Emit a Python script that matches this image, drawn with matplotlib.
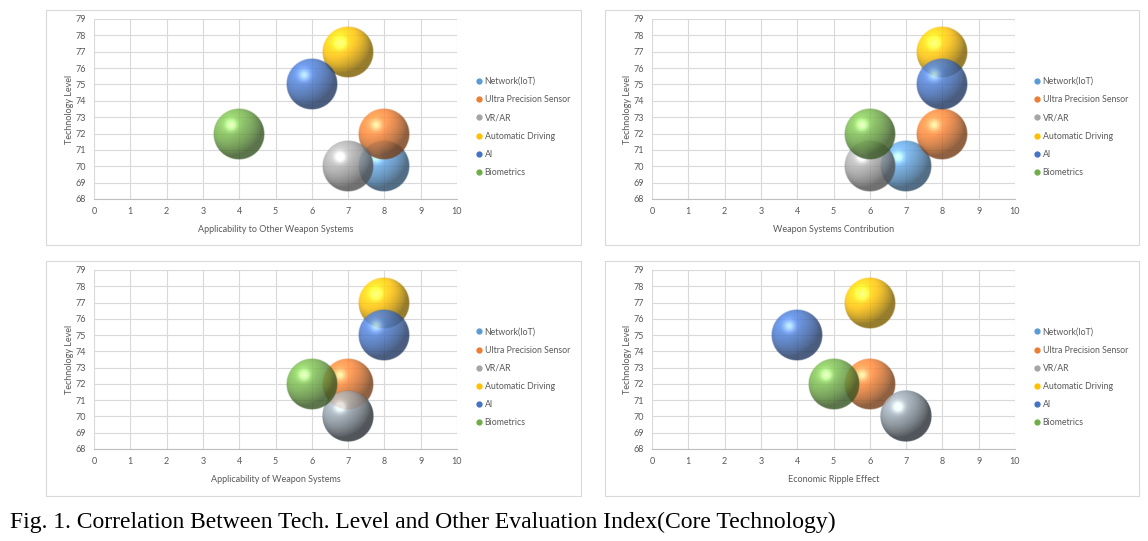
import matplotlib
matplotlib.use("Agg")
import matplotlib.pyplot as plt
from matplotlib.patches import Rectangle
from matplotlib.lines import Line2D
import numpy as np
from matplotlib.colors import to_rgb

plt.rcParams['font.family'] = ['Lato', 'DejaVu Sans']

techs = ["Network(IoT)", "Ultra Precision Sensor", "VR/AR",
         "Automatic Driving", "AI", "Biometrics"]
colors = ["#5B9BD5", "#ED7D31", "#A5A5A5", "#FFC000", "#4472C4", "#70AD47"]
tech_level = [70, 72, 70, 77, 75, 72]

x_titles = ["Applicability to Other Weapon Systems",
            "Weapon Systems Contribution",
            "Applicability of Weapon Systems",
            "Economic Ripple Effect"]
x_other = [8, 8, 7, 7, 6, 4]
x_contrib = [7, 8, 6, 8, 8, 6]
x_applic = [7, 7, 7, 8, 8, 6]
x_econ = [7, 6, 7, 6, 4, 5]
x_values = [x_other, x_contrib, x_applic, x_econ]

caption = "Fig. 1. Correlation Between Tech. Level and Other Evaluation Index(Core Technology)"

W, H = 1148, 541
fig = plt.figure(figsize=(W / 100, H / 100), dpi=100)


def sphere_rgba(color, n=80, alpha=0.82):
    base = np.array(to_rgb(color))
    t = np.linspace(-1, 1, n)
    xx, yy = np.meshgrid(t, -t)
    rr = np.sqrt(xx ** 2 + yy ** 2)
    zz = np.sqrt(np.clip(1 - rr ** 2, 0, 1))
    L = np.array([-0.45, 0.55, 0.70])
    L = L / np.linalg.norm(L)
    diff = np.clip(xx * L[0] + yy * L[1] + zz * L[2], 0, 1)
    spec = np.exp(-((xx + 0.3) ** 2 + (yy - 0.35) ** 2) / 0.05) * 0.4
    shade = 0.5 + 0.7 * diff
    rgb = base[None, None, :] * shade[..., None] + spec[..., None]
    rgb = np.clip(rgb, 0, 1)
    a = np.clip((1 - rr) * n / 2, 0, 1) * alpha
    return np.dstack([rgb, a])


# frames (pixels): left, top, right, bottom
frames = [(46, 10, 581, 245), (605, 10, 1139, 245),
          (46, 261, 581, 496), (605, 261, 1139, 496)]
# plot areas (pixels): x0, x10, y79, y68
areas = [(94, 457, 19, 199), (652, 1015, 19, 199),
         (94, 457, 270, 449), (652, 1015, 270, 449)]
radius_px = 26

for k in range(4):
    fl, ft, fr, fb = frames[k]
    fig.patches.append(Rectangle((fl / W, 1 - fb / H), (fr - fl) / W, (fb - ft) / H,
                                 transform=fig.transFigure, fill=False,
                                 edgecolor="#d9d9d9", linewidth=0.8))
    x0, x1, yt, yb = areas[k]
    ax = fig.add_axes([x0 / W, 1 - yb / H, (x1 - x0) / W, (yb - yt) / H])
    ax.set_xlim(0, 10)
    ax.set_ylim(68, 79)
    ax.set_xticks(range(0, 11))
    ax.set_yticks(range(68, 80))
    ax.grid(True, color="#d9d9d9", linewidth=0.8)
    ax.set_axisbelow(True)
    for s in ["top", "right", "left"]:
        ax.spines[s].set_visible(False)
    ax.spines["bottom"].set_color("#bfbfbf")
    ax.tick_params(length=0, labelsize=6.5, colors="#595959", pad=6)
    ax.set_xlabel(x_titles[k], fontsize=6.5, color="#595959", labelpad=6)
    ax.set_ylabel("Technology Level", fontsize=6.5, color="#595959", labelpad=1)

    rx = radius_px / ((x1 - x0) / 10)
    ry = radius_px / ((yb - yt) / 11)
    xs = x_values[k]
    for i in range(len(techs)):
        ax.imshow(sphere_rgba(colors[i]), extent=[xs[i] - rx, xs[i] + rx,
                                                  tech_level[i] - ry, tech_level[i] + ry],
                  aspect="auto", interpolation="bilinear", zorder=3 + i, clip_on=False)
    ax.set_xlim(0, 10)
    ax.set_ylim(68, 79)

    handles = [Line2D([], [], linestyle="none", marker="o", markersize=3.5,
                      markerfacecolor=c, markeredgecolor=c) for c in colors]
    ax.legend(handles, techs, loc="center left", bbox_to_anchor=(1.033, 0.40),
              frameon=False, fontsize=6.3, labelcolor="#595959",
              handletextpad=0.3, handlelength=0.8, labelspacing=1.05,
              borderpad=0.2)

fig.text(10 / W, 1 - 522 / H, caption, fontsize=17, family="Liberation Serif",
         va="center", ha="left", color="black")

fig.savefig("out.png", dpi=100)
